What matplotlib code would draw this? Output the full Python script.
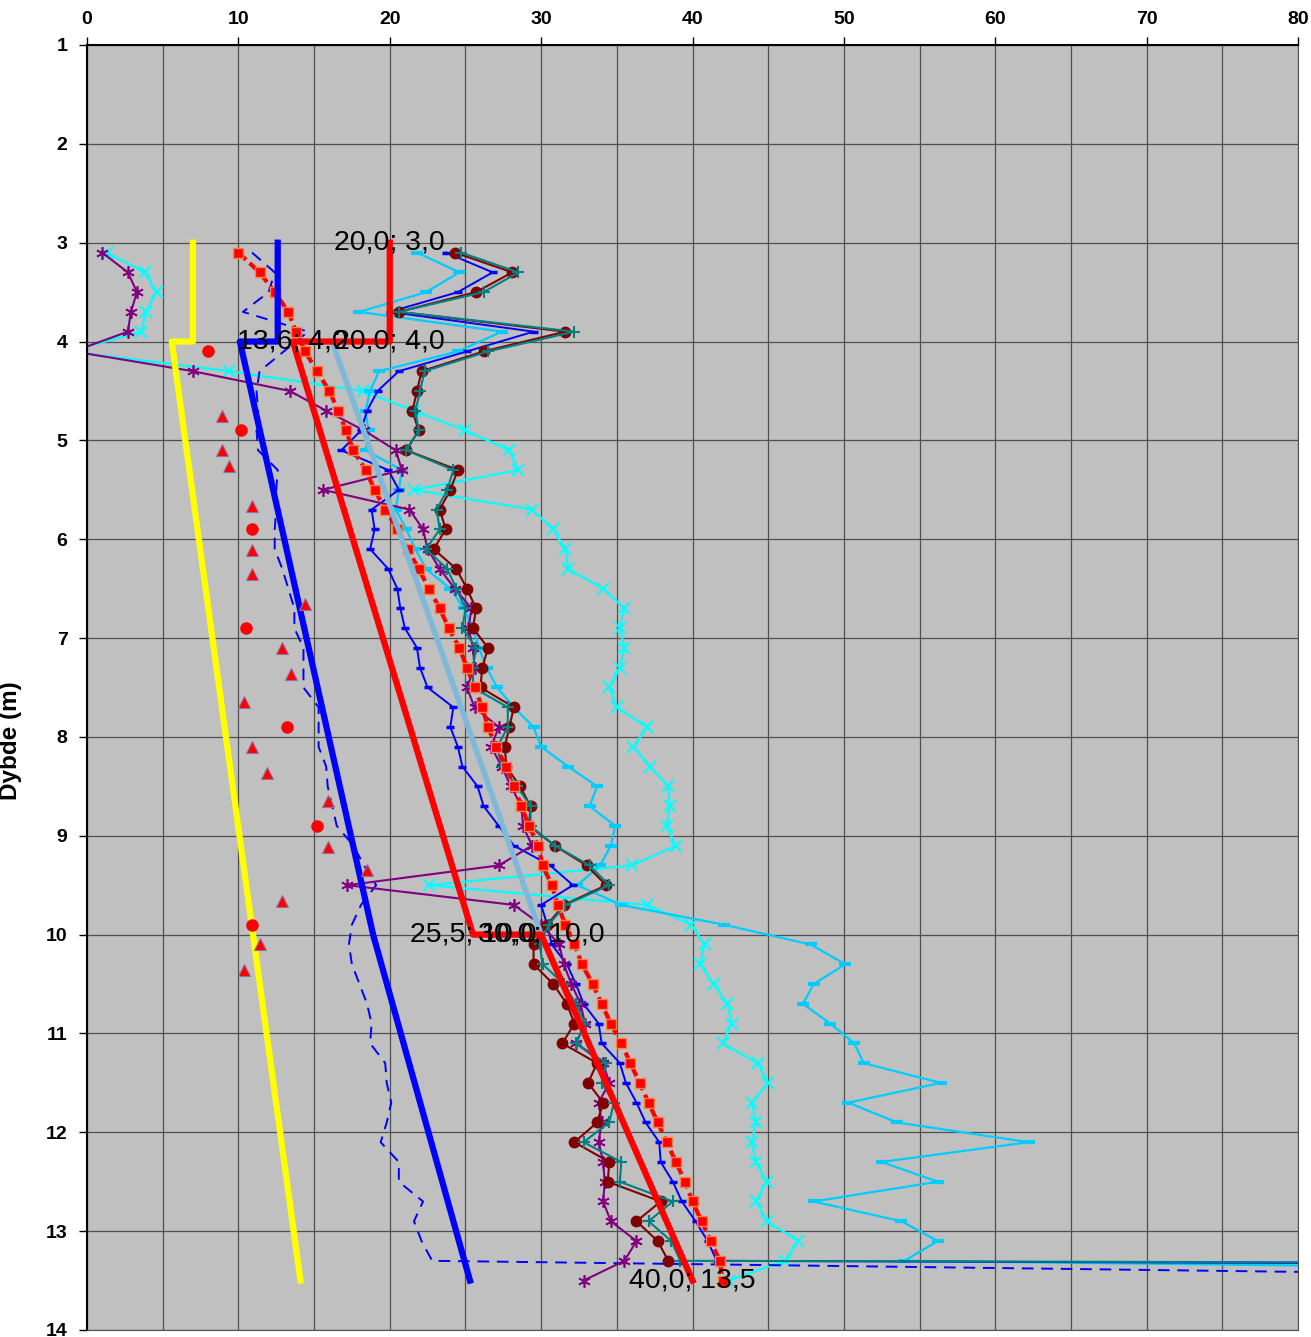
import matplotlib
matplotlib.use("Agg")
import matplotlib.pyplot as plt
from matplotlib.ticker import MultipleLocator

plt.rcParams['font.family'] = ['Liberation Sans', 'DejaVu Sans']

# depth of each measurement (m)
depth = [3.1, 3.3, 3.5, 3.7, 3.9, 4.1, 4.3, 4.5, 4.7, 4.9, 5.1, 5.3, 5.5, 5.7, 5.9,
         6.1, 6.3, 6.5, 6.7, 6.9, 7.1, 7.3, 7.5, 7.7, 7.9, 8.1, 8.3, 8.5, 8.7, 8.9,
         9.1, 9.3, 9.5, 9.7, 9.9, 10.1, 10.3, 10.5, 10.7, 10.9, 11.1, 11.3, 11.5,
         11.7, 11.9, 12.1, 12.3, 12.5, 12.7, 12.9, 13.1, 13.3, 13.5]

maroon_vals = [24.3, 28.1, 25.7, 20.6, 31.6, 26.2, 22.1, 21.8, 21.5, 21.9, 21.1,
               24.5, 24.0, 23.3, 23.7, 22.9, 24.4, 25.1, 25.7, 25.5, 26.5,
               26.1, 26.0, 28.2, 27.9, 27.6, 27.7, 28.6, 29.3, 29.2, 30.9,
               33.0, 34.3, 31.5, 30.4, 29.5, 29.5, 30.8, 31.7, 32.2, 31.4,
               33.7, 33.1, 34.1, 33.7, 32.2, 34.5, 34.4, 37.9, 36.3, 37.7, 38.4]

teal_vals = [24.7, 28.5, 26.2, 20.6, 32.2, 26.5, 22.3, 22.0, 21.7, 21.9, 21.1,
             24.2, 23.8, 23.1, 23.3, 22.4, 23.8, 24.4, 25.0, 24.8, 25.7,
             25.5, 25.5, 27.8, 27.8, 27.1, 27.4, 28.4, 29.3, 29.3, 30.9,
             33.2, 34.5, 31.6, 30.5, 29.9, 30.1, 31.5, 32.3, 32.9, 32.3,
             34.3, 34.0, 34.8, 34.5, 32.8, 35.3, 35.2, 38.7, 37.1, 38.6, 39.2, 600]

purple_vals = [1.0, 2.7, 3.3, 2.9, 2.7, -0.9, 7.0, 13.4, 15.8, 18.3, 20.4,
               20.8, 15.6, 21.3, 22.2, 22.5, 23.3, 24.3, 25.4, 25.2, 25.5,
               25.6, 25.1, 25.6, 27.2, 26.7, 27.4, 28.0, 28.7, 28.8, 29.4,
               27.2, 17.2, 28.2, 30.0, 31.2, 31.5, 32.0, 32.6, 32.9, 32.3,
               34.1, 34.5, 33.8, 34.0, 33.8, 34.1, 34.2, 34.1, 34.6, 36.3, 35.5, 32.8]

aqua_vals = [1.3, 3.8, 4.6, 3.9, 3.6, -1.2, 9.4, 18.2, 21.6, 25.0, 27.9,
             28.5, 21.6, 29.4, 30.8, 31.6, 31.8, 34.1, 35.5, 35.2, 35.5,
             35.2, 34.5, 35.0, 37.0, 36.1, 37.2, 38.4, 38.5, 38.3, 38.9,
             36.0, 22.6, 37.0, 39.9, 40.8, 40.5, 41.4, 42.3, 42.6, 42.0,
             44.3, 45.0, 43.9, 44.2, 43.9, 44.2, 44.9, 44.2, 44.9, 47.0, 46.1, 42.4]

skyblue_vals = [21.8, 24.6, 22.4, 18.0, 27.4, 24.5, 19.3, 18.7, 18.4, 18.6, 18.4,
                20.8, 20.6, 20.4, 21.1, 21.7, 22.4, 24.0, 24.9, 25.5, 25.9,
                26.4, 27.1, 28.2, 29.5, 30.0, 31.8, 33.7, 33.2, 34.9, 34.6,
                33.9, 32.4, 35.3, 42.1, 47.8, 50.1, 48.0, 47.3, 49.1, 50.7,
                51.3, 56.4, 50.3, 53.5, 62.2, 52.5, 56.2, 48.0, 53.8, 56.2, 54.0, 165]

blue_vals = [23.7, 26.8, 24.5, 20.0, 29.5, 25.1, 20.6, 19.2, 18.5, 18.1, 16.8,
             19.9, 20.6, 18.8, 19.0, 18.7, 19.9, 20.5, 20.7, 21.0, 21.8,
             22.0, 22.5, 24.2, 24.0, 24.5, 24.8, 25.8, 26.2, 27.2, 28.2,
             30.6, 32.1, 30.0, 30.4, 30.7, 31.7, 32.3, 32.8, 33.8, 34.0,
             35.2, 35.6, 36.3, 36.9, 37.8, 37.9, 38.7, 39.3, 40.2, 41.0, 41.6, 400]

redsq_vals = [10.0, 11.4, 12.4, 13.3, 13.8, 14.4, 15.2, 16.0, 16.6, 17.1, 17.6,
              18.4, 19.0, 19.7, 20.5, 21.2, 21.9, 22.6, 23.3, 23.9, 24.6,
              25.1, 25.6, 26.1, 26.5, 27.0, 27.7, 28.2, 28.7, 29.2, 29.8,
              30.1, 30.7, 31.1, 31.6, 32.2, 32.7, 33.4, 34.0, 34.6, 35.3,
              35.9, 36.5, 37.1, 37.7, 38.3, 38.9, 39.5, 40.0, 40.6, 41.2, 41.8, 42.0]

bluedash_vals = [10.9, 12.4, 12.0, 10.3, 14.6, 13.0, 11.4, 11.2, 11.3, 11.2, 11.3,
                 12.6, 12.5, 12.5, 12.4, 12.4, 12.9, 13.3, 13.7, 13.7, 14.3,
                 14.3, 14.3, 15.3, 15.3, 15.3, 15.8, 15.9, 16.2, 16.5, 17.6,
                 18.3, 19.1, 18.1, 17.5, 17.3, 17.5, 18.0, 18.5, 18.8, 18.7,
                 19.7, 19.8, 20.1, 19.8, 19.4, 20.6, 20.6, 22.2, 21.6, 22.1, 22.8, 125]

# single points
circle_depth = [4.1, 4.9, 5.9, 6.9, 7.9, 8.9, 9.9]
circle_vals = [8.0, 10.2, 10.9, 10.5, 13.2, 15.2, 10.9]
tri_depth = [4.75, 5.1, 5.26, 5.66, 6.11, 6.35, 6.66, 7.1, 7.36, 7.65, 8.1, 8.36,
             8.65, 9.11, 9.35, 9.66, 10.1, 10.36]
tri_vals = [8.9, 8.9, 9.4, 10.9, 10.9, 10.9, 14.4, 12.9, 13.5, 10.4, 10.9, 11.9,
            15.9, 15.9, 18.5, 12.9, 11.4, 10.4]

# design lines
red_x = [20.0, 20.0, 13.6, 25.5, 30.0, 40.0]
red_y = [3.0, 4.0, 4.0, 10.0, 10.0, 13.5]
blue_x = [12.6, 12.6, 10.1, 18.9, 25.3]
blue_y = [3.0, 4.0, 4.0, 10.0, 13.5]
yellow_x = [7.0, 7.0, 5.6, 14.1]
yellow_y = [3.0, 4.0, 4.0, 13.5]
light_x = [16.2, 30.0]
light_y = [4.0, 10.0]

fig = plt.figure(figsize=(13.11, 13.37), dpi=100)
ax = fig.add_axes([87 / 1311, 7 / 1337, 1211 / 1311, 1285 / 1337])
ax.set_facecolor('#C0C0C0')

def d(vals):
    return depth[:len(vals)]

ax.plot(aqua_vals, d(aqua_vals), color='#00FFFF', lw=1.6, marker='x', ms=8, mew=1.5)
ax.plot(skyblue_vals, d(skyblue_vals), color='#00CCFF', lw=1.6, marker='_', ms=8, mew=3)
ax.plot(bluedash_vals, d(bluedash_vals), color='#0000FF', lw=1.4, ls=(0, (6, 4)))
ax.plot(blue_vals, d(blue_vals), color='#0000FF', lw=1.4, marker='_', ms=6, mew=2.5)
ax.plot(purple_vals, d(purple_vals), color='#800080', lw=1.5, marker=(6, 2, 0), ms=9, mew=1.2)
ax.plot(maroon_vals, d(maroon_vals), color='#800000', lw=1.5, marker='o', ms=7.5)
ax.plot(teal_vals, d(teal_vals), color='#008080', lw=1.5, marker='+', ms=9, mew=1.5)
ax.plot(redsq_vals, d(redsq_vals), color='#FF0000', lw=3, ls=(0, (2.5, 1.2)),
        marker='s', ms=7, mfc='#FF0000', mec='#FF8040', mew=1)

ax.plot(light_x, light_y, color='#80B8D8', lw=4, solid_capstyle='butt')
ax.plot(yellow_x, yellow_y, color='#FFFF00', lw=4.5)
ax.plot(blue_x, blue_y, color='#0000FF', lw=4.5)
ax.plot(red_x, red_y, color='#FF0000', lw=4.5)

ax.plot(circle_vals, circle_depth, ls='none', marker='o', ms=8, color='#FF0000')
ax.plot(tri_vals, tri_depth, ls='none', marker='^', ms=9, mfc='#FF0000',
        mec='#9070A0', mew=0.8)

for x, y in zip(red_x, red_y):
    label = f"{x:.1f}; {y:.1f}".replace('.', ',')
    ax.text(x, y, label, fontsize=20.5, ha='center', va='center', color='black')

ax.set_xlim(0, 80)
ax.set_ylim(14, 1)
ax.xaxis.tick_top()
ax.xaxis.set_major_locator(MultipleLocator(10))
ax.xaxis.set_minor_locator(MultipleLocator(5))
ax.yaxis.set_major_locator(MultipleLocator(1))
ax.grid(True, which='both', color='#505050', lw=0.9)
ax.set_axisbelow(True)
ax.tick_params(axis='x', which='major', length=6, width=1, pad=6, labelsize=14, direction='out')
ax.tick_params(axis='x', which='minor', length=0)
ax.tick_params(axis='y', length=6, width=1, pad=8, labelsize=14, direction='out')
for lab in ax.get_xticklabels() + ax.get_yticklabels():
    lab.set_fontweight('bold')
ax.set_ylabel('Dybde (m)', fontsize=17.5, fontweight='bold')
ax.yaxis.set_label_coords(-0.0537, 0.459)
for s in ['left', 'top']:
    ax.spines[s].set_color('black')
    ax.spines[s].set_linewidth(1.5)
for s in ['right', 'bottom']:
    ax.spines[s].set_color('#505050')

fig.savefig('out.png', dpi=100)
